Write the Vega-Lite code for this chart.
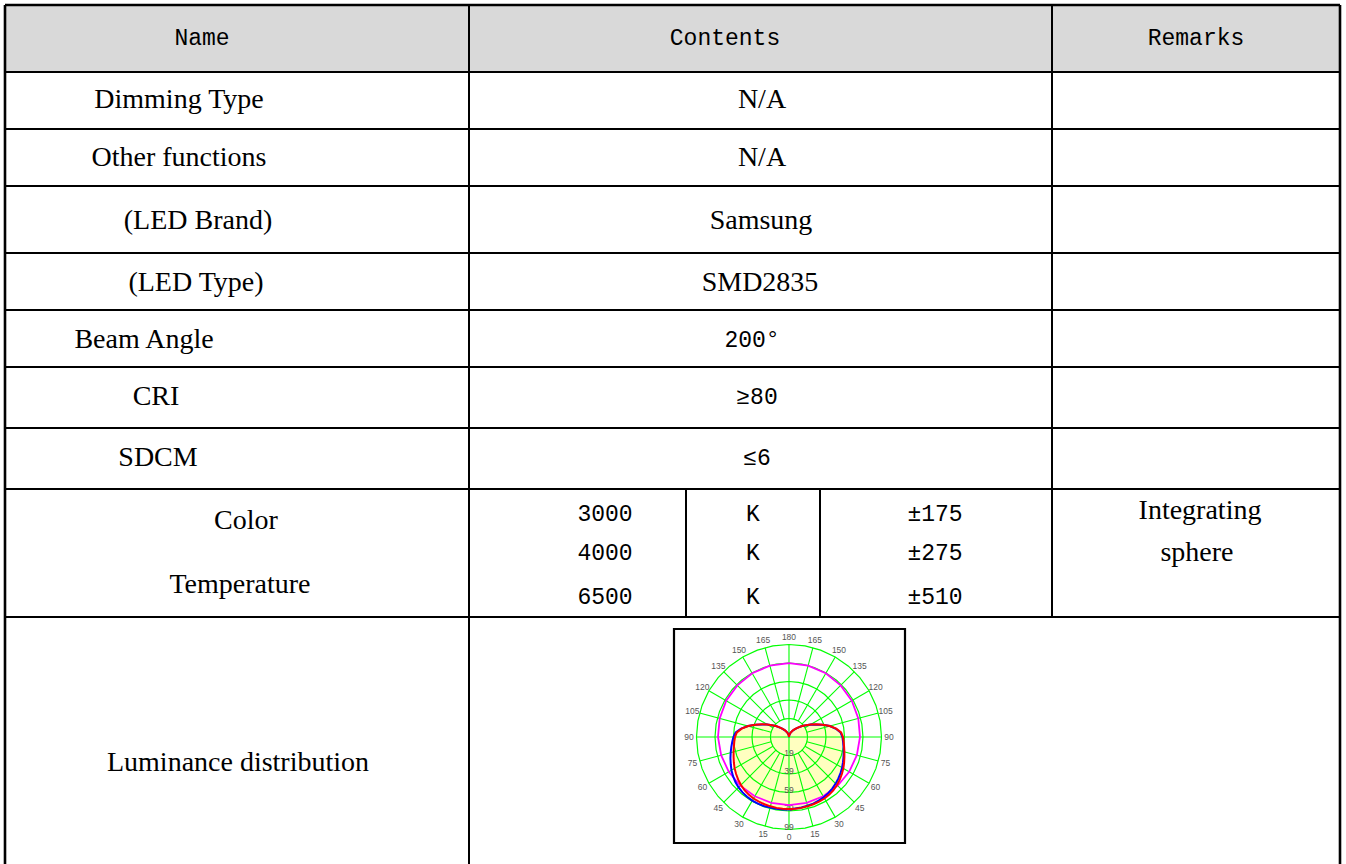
{
"$schema": "https://vega.github.io/schema/vega-lite/v6.json",
"width": 1346, "height": 864, "padding": 0, "autosize": {"type": "none"},
"background": "#ffffff",
"config": {"view": {"stroke": null}},
"datasets": {
 "shade": [{"x0": 5, "x1": 1340, "y0": 5, "y1": 72}],
 "frame": [{"x0": 674, "x1": 905, "y0": 629, "y1": 843}],
 "hlines": [{"y": 72, "x0": 5, "x1": 1340}, {"y": 129, "x0": 5, "x1": 1340}, {"y": 186, "x0": 5, "x1": 1340}, {"y": 253, "x0": 5, "x1": 1340}, {"y": 310, "x0": 5, "x1": 1340}, {"y": 367, "x0": 5, "x1": 1340}, {"y": 428, "x0": 5, "x1": 1340}, {"y": 489, "x0": 5, "x1": 1340}, {"y": 617, "x0": 5, "x1": 1340}],
 "vlines": [{"x": 469, "y0": 5, "y1": 864}, {"x": 1052, "y0": 5, "y1": 617}, {"x": 686, "y0": 489, "y1": 617}, {"x": 820, "y0": 489, "y1": 617}],
 "border": [{"x0": 5, "x1": 1340, "y0": 5, "y1": 5}, {"x0": 5, "x1": 5, "y0": 5, "y1": 864}, {"x0": 1340, "x1": 1340, "y0": 5, "y1": 864}],
 "serif": [
  {"t": "Dimming Type", "x": 179, "y": 100},
  {"t": "Other functions", "x": 179, "y": 158},
  {"t": "(LED Brand)", "x": 198, "y": 221},
  {"t": "(LED Type)", "x": 196, "y": 283},
  {"t": "Beam Angle", "x": 144, "y": 340},
  {"t": "CRI", "x": 156, "y": 397},
  {"t": "SDCM", "x": 158, "y": 458},
  {"t": "Color", "x": 246, "y": 521},
  {"t": "Temperature", "x": 240, "y": 585},
  {"t": "Luminance distribution", "x": 238, "y": 763},
  {"t": "N/A", "x": 762, "y": 100},
  {"t": "N/A", "x": 762, "y": 158},
  {"t": "Samsung", "x": 761, "y": 221},
  {"t": "SMD2835", "x": 760, "y": 283},
  {"t": "Integrating", "x": 1200, "y": 511},
  {"t": "sphere", "x": 1197, "y": 553}
 ],
 "mono": [
  {"t": "Name", "x": 202, "y": 38},
  {"t": "Contents", "x": 725, "y": 38},
  {"t": "Remarks", "x": 1196, "y": 38},
  {"t": "200°", "x": 752, "y": 340},
  {"t": "≥80", "x": 757, "y": 397},
  {"t": "≤6", "x": 757, "y": 458},
  {"t": "3000", "x": 605, "y": 514},
  {"t": "4000", "x": 605, "y": 553},
  {"t": "6500", "x": 605, "y": 597},
  {"t": "K", "x": 753, "y": 514},
  {"t": "K", "x": 753, "y": 553},
  {"t": "K", "x": 753, "y": 597},
  {"t": "±175", "x": 935, "y": 514},
  {"t": "±275", "x": 935, "y": 553},
  {"t": "±510", "x": 935, "y": 597}
 ],
 "rings": [
  {"r": 19.8, "a": [-180,-170,-160,-150,-140,-130,-120,-110,-100,-90,-80,-70,-60,-50,-40,-30,-20,-10,0,10,20,30,40,50,60,70,80,90,100,110,120,130,140,150,160,170,180]},
  {"r": 39.6, "a": [-180,-170,-160,-150,-140,-130,-120,-110,-100,-90,-80,-70,-60,-50,-40,-30,-20,-10,0,10,20,30,40,50,60,70,80,90,100,110,120,130,140,150,160,170,180]},
  {"r": 59.4, "a": [-180,-170,-160,-150,-140,-130,-120,-110,-100,-90,-80,-70,-60,-50,-40,-30,-20,-10,0,10,20,30,40,50,60,70,80,90,100,110,120,130,140,150,160,170,180]},
  {"r": 79.2, "a": [-180,-170,-160,-150,-140,-130,-120,-110,-100,-90,-80,-70,-60,-50,-40,-30,-20,-10,0,10,20,30,40,50,60,70,80,90,100,110,120,130,140,150,160,170,180]},
  {"r": 99, "a": [-180,-170,-160,-150,-140,-130,-120,-110,-100,-90,-80,-70,-60,-50,-40,-30,-20,-10,0,10,20,30,40,50,60,70,80,90,100,110,120,130,140,150,160,170,180]}
 ],
 "spokes": [
  {"a": 0, "r0": 0, "r1": 99}, {"a": 15, "r0": 19.8, "r1": 99}, {"a": 30, "r0": 19.8, "r1": 99}, {"a": 45, "r0": 19.8, "r1": 99},
  {"a": 60, "r0": 19.8, "r1": 99}, {"a": 75, "r0": 19.8, "r1": 99}, {"a": 90, "r0": 0, "r1": 99}, {"a": 105, "r0": 19.8, "r1": 99},
  {"a": 120, "r0": 19.8, "r1": 99}, {"a": 135, "r0": 19.8, "r1": 99}, {"a": 150, "r0": 19.8, "r1": 99}, {"a": 165, "r0": 19.8, "r1": 99},
  {"a": 180, "r0": 0, "r1": 99}, {"a": -165, "r0": 19.8, "r1": 99}, {"a": -150, "r0": 19.8, "r1": 99}, {"a": -135, "r0": 19.8, "r1": 99},
  {"a": -120, "r0": 19.8, "r1": 99}, {"a": -105, "r0": 19.8, "r1": 99}, {"a": -90, "r0": 0, "r1": 99}, {"a": -75, "r0": 19.8, "r1": 99},
  {"a": -60, "r0": 19.8, "r1": 99}, {"a": -45, "r0": 19.8, "r1": 99}, {"a": -30, "r0": 19.8, "r1": 99}, {"a": -15, "r0": 19.8, "r1": 99}
 ],
 "angleLabels": [
  {"a": 0, "t": "0"}, {"a": 15, "t": "15"}, {"a": 30, "t": "30"}, {"a": 45, "t": "45"}, {"a": 60, "t": "60"}, {"a": 75, "t": "75"},
  {"a": 90, "t": "90"}, {"a": 105, "t": "105"}, {"a": 120, "t": "120"}, {"a": 135, "t": "135"}, {"a": 150, "t": "150"}, {"a": 165, "t": "165"},
  {"a": 180, "t": "180"}, {"a": -15, "t": "15"}, {"a": -30, "t": "30"}, {"a": -45, "t": "45"}, {"a": -60, "t": "60"}, {"a": -75, "t": "75"},
  {"a": -90, "t": "90"}, {"a": -105, "t": "105"}, {"a": -120, "t": "120"}, {"a": -135, "t": "135"}, {"a": -150, "t": "150"}, {"a": -165, "t": "165"}
 ],
 "ringLabels": [{"r": 19.8, "t": "19"}, {"r": 39.6, "t": "39"}, {"r": 59.4, "t": "59"}, {"r": 79.2, "t": "79"}, {"r": 99, "t": "99"}],
 "curves": [
  {"s": "red", "a": -180, "r": 0}, {"s": "red", "a": -175, "r": 1.1}, {"s": "red", "a": -170, "r": 2.3}, {"s": "red", "a": -165, "r": 3.5},
  {"s": "red", "a": -160, "r": 4.8}, {"s": "red", "a": -155, "r": 6.3}, {"s": "red", "a": -150, "r": 8.0}, {"s": "red", "a": -145, "r": 10.0},
  {"s": "red", "a": -140, "r": 12.2}, {"s": "red", "a": -135, "r": 15.0}, {"s": "red", "a": -130, "r": 18.2}, {"s": "red", "a": -125, "r": 22.0},
  {"s": "red", "a": -120, "r": 26.8}, {"s": "red", "a": -115, "r": 32.3}, {"s": "red", "a": -110, "r": 38.5}, {"s": "red", "a": -105, "r": 45.3},
  {"s": "red", "a": -100, "r": 51.4}, {"s": "red", "a": -95, "r": 56.0}, {"s": "red", "a": -90, "r": 57.8}, {"s": "red", "a": -85, "r": 58.8},
  {"s": "red", "a": -80, "r": 59.9}, {"s": "red", "a": -75, "r": 61.4}, {"s": "red", "a": -70, "r": 63.1}, {"s": "red", "a": -65, "r": 65.1},
  {"s": "red", "a": -60, "r": 67.2}, {"s": "red", "a": -55, "r": 69.1}, {"s": "red", "a": -50, "r": 71.0}, {"s": "red", "a": -45, "r": 72.6},
  {"s": "red", "a": -40, "r": 74.1}, {"s": "red", "a": -35, "r": 75.2}, {"s": "red", "a": -30, "r": 76.0}, {"s": "red", "a": -25, "r": 76.3},
  {"s": "red", "a": -20, "r": 76.6}, {"s": "red", "a": -15, "r": 76.8}, {"s": "red", "a": -10, "r": 77.0}, {"s": "red", "a": -5, "r": 77.1},
  {"s": "red", "a": 0, "r": 77.1}, {"s": "red", "a": 5, "r": 77.1}, {"s": "red", "a": 10, "r": 77.0}, {"s": "red", "a": 15, "r": 76.8},
  {"s": "red", "a": 20, "r": 76.6}, {"s": "red", "a": 25, "r": 76.3}, {"s": "red", "a": 30, "r": 76.0}, {"s": "red", "a": 35, "r": 75.2},
  {"s": "red", "a": 40, "r": 74.1}, {"s": "red", "a": 45, "r": 72.6}, {"s": "red", "a": 50, "r": 71.0}, {"s": "red", "a": 55, "r": 69.1},
  {"s": "red", "a": 60, "r": 67.2}, {"s": "red", "a": 65, "r": 65.1}, {"s": "red", "a": 70, "r": 63.1}, {"s": "red", "a": 75, "r": 61.4},
  {"s": "red", "a": 80, "r": 59.9}, {"s": "red", "a": 85, "r": 58.8}, {"s": "red", "a": 90, "r": 57.8}, {"s": "red", "a": 95, "r": 56.0},
  {"s": "red", "a": 100, "r": 51.4}, {"s": "red", "a": 105, "r": 45.3}, {"s": "red", "a": 110, "r": 38.5}, {"s": "red", "a": 115, "r": 32.3},
  {"s": "red", "a": 120, "r": 26.8}, {"s": "red", "a": 125, "r": 22.0}, {"s": "red", "a": 130, "r": 18.2}, {"s": "red", "a": 135, "r": 15.0},
  {"s": "red", "a": 140, "r": 12.2}, {"s": "red", "a": 145, "r": 10.0}, {"s": "red", "a": 150, "r": 8.0}, {"s": "red", "a": 155, "r": 6.3},
  {"s": "red", "a": 160, "r": 4.8}, {"s": "red", "a": 165, "r": 3.5}, {"s": "red", "a": 170, "r": 2.3}, {"s": "red", "a": 175, "r": 1.1},
  {"s": "red", "a": 180, "r": 0},
  {"s": "blue", "a": -180, "r": 0}, {"s": "blue", "a": -170, "r": 2.3}, {"s": "blue", "a": -160, "r": 4.8}, {"s": "blue", "a": -150, "r": 8.0},
  {"s": "blue", "a": -140, "r": 12.2}, {"s": "blue", "a": -130, "r": 18.2}, {"s": "blue", "a": -120, "r": 26.8}, {"s": "blue", "a": -110, "r": 38.5},
  {"s": "blue", "a": -105, "r": 45.3}, {"s": "blue", "a": -100, "r": 52.0}, {"s": "blue", "a": -95, "r": 57.3}, {"s": "blue", "a": -90, "r": 59.5},
  {"s": "blue", "a": -85, "r": 61.0}, {"s": "blue", "a": -80, "r": 62.7}, {"s": "blue", "a": -75, "r": 64.6}, {"s": "blue", "a": -70, "r": 66.7},
  {"s": "blue", "a": -65, "r": 68.8}, {"s": "blue", "a": -60, "r": 71.1}, {"s": "blue", "a": -55, "r": 73.1}, {"s": "blue", "a": -50, "r": 74.9},
  {"s": "blue", "a": -45, "r": 76.3}, {"s": "blue", "a": -40, "r": 77.4}, {"s": "blue", "a": -35, "r": 78.1}, {"s": "blue", "a": -30, "r": 78.6},
  {"s": "blue", "a": -25, "r": 78.6}, {"s": "blue", "a": -20, "r": 78.5}, {"s": "blue", "a": -15, "r": 78.2}, {"s": "blue", "a": -10, "r": 78.0},
  {"s": "blue", "a": -5, "r": 77.8}, {"s": "blue", "a": 0, "r": 77.6}, {"s": "blue", "a": 5, "r": 76.8}, {"s": "blue", "a": 10, "r": 76.5},
  {"s": "blue", "a": 15, "r": 76.2}, {"s": "blue", "a": 20, "r": 75.8}, {"s": "blue", "a": 25, "r": 75.1}, {"s": "blue", "a": 30, "r": 74.4},
  {"s": "blue", "a": 35, "r": 73.3}, {"s": "blue", "a": 40, "r": 72.0}, {"s": "blue", "a": 45, "r": 70.6}, {"s": "blue", "a": 50, "r": 69.0},
  {"s": "blue", "a": 55, "r": 67.3}, {"s": "blue", "a": 60, "r": 65.6}, {"s": "blue", "a": 65, "r": 63.8}, {"s": "blue", "a": 70, "r": 62.1},
  {"s": "blue", "a": 75, "r": 60.6}, {"s": "blue", "a": 80, "r": 59.2}, {"s": "blue", "a": 85, "r": 58.1}, {"s": "blue", "a": 90, "r": 57.2},
  {"s": "blue", "a": 95, "r": 55.4}, {"s": "blue", "a": 100, "r": 51.0}, {"s": "blue", "a": 105, "r": 45.3}, {"s": "blue", "a": 110, "r": 38.5},
  {"s": "blue", "a": 120, "r": 26.8}, {"s": "blue", "a": 130, "r": 18.2}, {"s": "blue", "a": 140, "r": 12.2}, {"s": "blue", "a": 150, "r": 8.0},
  {"s": "blue", "a": 160, "r": 4.8}, {"s": "blue", "a": 170, "r": 2.3}, {"s": "blue", "a": 180, "r": 0},
  {"s": "magenta", "a": -180, "r": 79.2}, {"s": "magenta", "a": -165, "r": 79.1}, {"s": "magenta", "a": -150, "r": 78.8}, {"s": "magenta", "a": -135, "r": 78.2},
  {"s": "magenta", "a": -120, "r": 77.6}, {"s": "magenta", "a": -105, "r": 76.8}, {"s": "magenta", "a": -90, "r": 76}, {"s": "magenta", "a": -75, "r": 75.2},
  {"s": "magenta", "a": -60, "r": 74.4}, {"s": "magenta", "a": -45, "r": 73.7}, {"s": "magenta", "a": -30, "r": 73.2}, {"s": "magenta", "a": -15, "r": 72.9},
  {"s": "magenta", "a": 0, "r": 72.8}, {"s": "magenta", "a": 15, "r": 72.9}, {"s": "magenta", "a": 30, "r": 73.2}, {"s": "magenta", "a": 45, "r": 73.7},
  {"s": "magenta", "a": 60, "r": 74.4}, {"s": "magenta", "a": 75, "r": 75.2}, {"s": "magenta", "a": 90, "r": 76}, {"s": "magenta", "a": 105, "r": 76.8},
  {"s": "magenta", "a": 120, "r": 77.6}, {"s": "magenta", "a": 135, "r": 78.2}, {"s": "magenta", "a": 150, "r": 78.8}, {"s": "magenta", "a": 165, "r": 79.1},
  {"s": "magenta", "a": 180, "r": 79.2}
 ]
},
"layer": [
 {
  "layer": [
   {"data": {"name": "shade"}, "mark": {"type": "rect", "color": "#d9d9d9"},
    "encoding": {"x": {"field": "x0", "type": "quantitative", "scale": {"domain": [0, 1346], "nice": false, "zero": false}, "axis": null}, "x2": {"field": "x1"},
                 "y": {"field": "y0", "type": "quantitative", "scale": {"domain": [0, 864], "nice": false, "zero": false, "reverse": true}, "axis": null}, "y2": {"field": "y1"}}},
   {"data": {"name": "frame"}, "mark": {"type": "rect", "fill": "#ffffff", "stroke": "#000000", "strokeWidth": 2.2},
    "encoding": {"x": {"field": "x0", "type": "quantitative", "scale": {"domain": [0, 1346], "nice": false, "zero": false}, "axis": null}, "x2": {"field": "x1"},
                 "y": {"field": "y0", "type": "quantitative", "scale": {"domain": [0, 864], "nice": false, "zero": false, "reverse": true}, "axis": null}, "y2": {"field": "y1"}}},
   {"data": {"name": "hlines"}, "mark": {"type": "rule", "color": "#000000", "strokeWidth": 2},
    "encoding": {"x": {"field": "x0", "type": "quantitative", "scale": {"domain": [0, 1346], "nice": false, "zero": false}, "axis": null}, "x2": {"field": "x1"},
                 "y": {"field": "y", "type": "quantitative", "scale": {"domain": [0, 864], "nice": false, "zero": false, "reverse": true}, "axis": null}}},
   {"data": {"name": "vlines"}, "mark": {"type": "rule", "color": "#000000", "strokeWidth": 2},
    "encoding": {"x": {"field": "x", "type": "quantitative", "scale": {"domain": [0, 1346], "nice": false, "zero": false}, "axis": null},
                 "y": {"field": "y0", "type": "quantitative", "scale": {"domain": [0, 864], "nice": false, "zero": false, "reverse": true}, "axis": null}, "y2": {"field": "y1"}}},
   {"data": {"name": "border"}, "mark": {"type": "rule", "color": "#000000", "strokeWidth": 2.6},
    "encoding": {"x": {"field": "x0", "type": "quantitative", "scale": {"domain": [0, 1346], "nice": false, "zero": false}, "axis": null}, "x2": {"field": "x1"},
                 "y": {"field": "y0", "type": "quantitative", "scale": {"domain": [0, 864], "nice": false, "zero": false, "reverse": true}, "axis": null}, "y2": {"field": "y1"}}},
   {"data": {"name": "serif"}, "mark": {"type": "text", "font": "Liberation Serif", "fontSize": 28, "color": "#000000", "align": "center", "baseline": "middle"},
    "encoding": {"x": {"field": "x", "type": "quantitative", "scale": {"domain": [0, 1346], "nice": false, "zero": false}, "axis": null},
                 "y": {"field": "y", "type": "quantitative", "scale": {"domain": [0, 864], "nice": false, "zero": false, "reverse": true}, "axis": null},
                 "text": {"field": "t", "type": "nominal"}}},
   {"data": {"name": "mono"}, "mark": {"type": "text", "font": "Liberation Mono", "fontSize": 23, "color": "#000000", "align": "center", "baseline": "middle"},
    "encoding": {"x": {"field": "x", "type": "quantitative", "scale": {"domain": [0, 1346], "nice": false, "zero": false}, "axis": null},
                 "y": {"field": "y", "type": "quantitative", "scale": {"domain": [0, 864], "nice": false, "zero": false, "reverse": true}, "axis": null},
                 "text": {"field": "t", "type": "nominal"}}}
  ]
 },
 {
  "layer": [
   {"data": {"name": "curves"},
    "transform": [{"filter": "datum.s === 'red'"}, {"calculate": "datum.r*sin(datum.a*PI/180)", "as": "px"}, {"calculate": "-datum.r*cos(datum.a*PI/180)", "as": "py"}],
    "mark": {"type": "line", "interpolate": "linear-closed", "fill": "#ffffc0", "stroke": "#ffffc0", "strokeWidth": 0.5},
    "encoding": {"x": {"field": "px", "type": "quantitative", "scale": {"domain": [-844.5, 596.2], "nice": false, "zero": false}, "axis": null},
                 "y": {"field": "py", "type": "quantitative", "scale": {"domain": [-135.9, 788.8], "nice": false, "zero": false}, "axis": null},
                 "order": {"field": "a", "type": "quantitative"}}},
   {"data": {"name": "rings"},
    "transform": [{"flatten": ["a"]}, {"calculate": "datum.r*sin(datum.a*PI/180)", "as": "px"}, {"calculate": "-datum.r*cos(datum.a*PI/180)", "as": "py"}],
    "mark": {"type": "line", "color": "#00ff00", "strokeWidth": 1.2},
    "encoding": {"x": {"field": "px", "type": "quantitative", "scale": {"domain": [-844.5, 596.2], "nice": false, "zero": false}, "axis": null},
                 "y": {"field": "py", "type": "quantitative", "scale": {"domain": [-135.9, 788.8], "nice": false, "zero": false}, "axis": null},
                 "detail": {"field": "r", "type": "nominal"},
                 "order": {"field": "a", "type": "quantitative"}}},
   {"data": {"name": "spokes"},
    "transform": [{"calculate": "datum.r0*sin(datum.a*PI/180)", "as": "px0"}, {"calculate": "-datum.r0*cos(datum.a*PI/180)", "as": "py0"},
                  {"calculate": "datum.r1*sin(datum.a*PI/180)", "as": "px1"}, {"calculate": "-datum.r1*cos(datum.a*PI/180)", "as": "py1"}],
    "mark": {"type": "rule", "color": "#00ff00", "strokeWidth": 1.1},
    "encoding": {"x": {"field": "px0", "type": "quantitative", "scale": {"domain": [-844.5, 596.2], "nice": false, "zero": false}, "axis": null}, "x2": {"field": "px1"},
                 "y": {"field": "py0", "type": "quantitative", "scale": {"domain": [-135.9, 788.8], "nice": false, "zero": false}, "axis": null}, "y2": {"field": "py1"}}},
   {"data": {"name": "angleLabels"},
    "transform": [{"calculate": "107*sin(datum.a*PI/180)", "as": "px"}, {"calculate": "-107*cos(datum.a*PI/180)", "as": "py"}],
    "mark": {"type": "text", "font": "Liberation Sans", "fontSize": 8.5, "color": "#555555", "align": "center", "baseline": "middle"},
    "encoding": {"x": {"field": "px", "type": "quantitative", "scale": {"domain": [-844.5, 596.2], "nice": false, "zero": false}, "axis": null},
                 "y": {"field": "py", "type": "quantitative", "scale": {"domain": [-135.9, 788.8], "nice": false, "zero": false}, "axis": null},
                 "text": {"field": "t", "type": "nominal"}}},
   {"data": {"name": "ringLabels"},
    "transform": [{"calculate": "0", "as": "px"}, {"calculate": "-datum.r", "as": "py"}],
    "mark": {"type": "text", "font": "Liberation Sans", "fontSize": 8.5, "color": "#555555", "align": "center", "baseline": "alphabetic"},
    "encoding": {"x": {"field": "px", "type": "quantitative", "scale": {"domain": [-844.5, 596.2], "nice": false, "zero": false}, "axis": null},
                 "y": {"field": "py", "type": "quantitative", "scale": {"domain": [-135.9, 788.8], "nice": false, "zero": false}, "axis": null},
                 "text": {"field": "t", "type": "nominal"}}},
   {"data": {"name": "curves"},
    "transform": [{"filter": "datum.s === 'magenta'"}, {"calculate": "datum.r*sin(datum.a*PI/180)", "as": "px"}, {"calculate": "-datum.r*cos(datum.a*PI/180)", "as": "py"}],
    "mark": {"type": "line", "color": "#ff00ff", "strokeWidth": 1.8},
    "encoding": {"x": {"field": "px", "type": "quantitative", "scale": {"domain": [-844.5, 596.2], "nice": false, "zero": false}, "axis": null},
                 "y": {"field": "py", "type": "quantitative", "scale": {"domain": [-135.9, 788.8], "nice": false, "zero": false}, "axis": null},
                 "order": {"field": "a", "type": "quantitative"}}},
   {"data": {"name": "curves"},
    "transform": [{"filter": "datum.s === 'blue'"}, {"calculate": "datum.r*sin(datum.a*PI/180)", "as": "px"}, {"calculate": "-datum.r*cos(datum.a*PI/180)", "as": "py"}],
    "mark": {"type": "line", "color": "#0000ff", "strokeWidth": 2},
    "encoding": {"x": {"field": "px", "type": "quantitative", "scale": {"domain": [-844.5, 596.2], "nice": false, "zero": false}, "axis": null},
                 "y": {"field": "py", "type": "quantitative", "scale": {"domain": [-135.9, 788.8], "nice": false, "zero": false}, "axis": null},
                 "order": {"field": "a", "type": "quantitative"}}},
   {"data": {"name": "curves"},
    "transform": [{"filter": "datum.s === 'red'"}, {"calculate": "datum.r*sin(datum.a*PI/180)", "as": "px"}, {"calculate": "-datum.r*cos(datum.a*PI/180)", "as": "py"}],
    "mark": {"type": "line", "color": "#ff0000", "strokeWidth": 2},
    "encoding": {"x": {"field": "px", "type": "quantitative", "scale": {"domain": [-844.5, 596.2], "nice": false, "zero": false}, "axis": null},
                 "y": {"field": "py", "type": "quantitative", "scale": {"domain": [-135.9, 788.8], "nice": false, "zero": false}, "axis": null},
                 "order": {"field": "a", "type": "quantitative"}}}
  ]
 }
],
"resolve": {"scale": {"x": "independent", "y": "independent"}}
}
